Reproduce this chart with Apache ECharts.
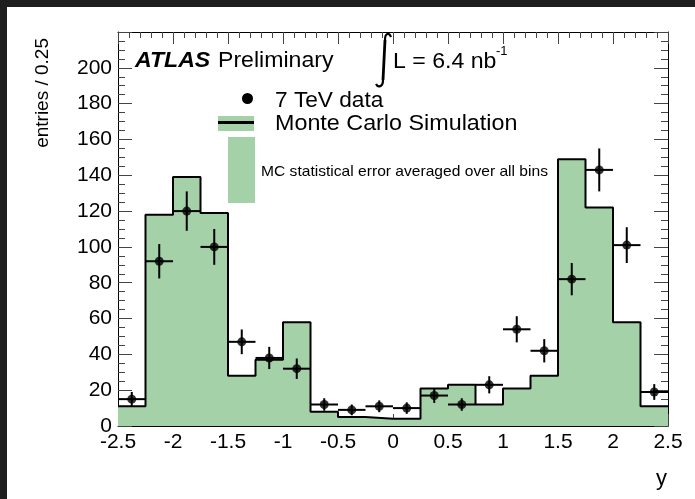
<!DOCTYPE html>
<html>
<head>
<meta charset="utf-8">
<script src="https://cdn.jsdelivr.net/npm/echarts@6/dist/echarts.min.js"></script>
<style>html,body{margin:0;padding:0;background:#fff;}#c{width:695px;height:499px;}</style>
</head>
<body>
<div id="c"></div>
<script>
// bin lower edges (width 0.25)
const binLow = [-2.5,-2.25,-2,-1.75,-1.5,-1.25,-1,-0.75,-0.5,-0.25,0,0.25,0.5,0.75,1,1.25,1.5,1.75,2,2.25];
const binCenters = [-2.375,-2.125,-1.875,-1.625,-1.375,-1.125,-0.875,-0.625,-0.375,-0.125,0.125,0.375,0.625,0.875,1.125,1.375,1.625,1.875,2.125,2.375];
const binWidth = 0.25;
const mcValues = [11,118,139,119,28,37,58,8,5,4,4,21,23,12,21,28,149,122,58,11];
const dataValues = [15,92,120,100,47,38,32,12,9,11,10,17,12,23,54,42,82,143,101,19];
const dataErrors = [4,9.6,11,10,6.9,6.2,5.7,3.5,3,3.3,3.2,4.1,3.5,4.8,7.3,6.5,9,12,10,4.4];
const xTicks = {min:-2.5, max:2.5, interval:0.5};
const yTicks = {min:0, max:220, interval:20};

const FONT = 'Liberation Sans, Arial, Helvetica, sans-serif';
const GREEN = '#a5d1a8';

const mcLine = binLow.map((x,i)=>[x, mcValues[i]]);
mcLine.push([binLow[binLow.length-1]+binWidth, mcValues[mcValues.length-1]]);
const pts = binCenters.map((x,i)=>[x, dataValues[i], dataErrors[i]]);

const chart = echarts.init(document.getElementById('c'), null, {renderer:'canvas'});

function xAxisCfg(pos, labels){
  return {
    type:'value', position:pos, min:xTicks.min, max:xTicks.max, interval:xTicks.interval,
    axisLine:{show:true, onZero:false, lineStyle:{color:'#000', width:1}},
    axisTick:{show:true, inside:true, length:12, lineStyle:{color:'#444', width:1}},
    minorTick:{show:true, splitNumber:5, length:6, lineStyle:{color:'#444', width:1}},
    axisLabel:{show:labels, color:'#000', fontSize:21, fontFamily:FONT, margin:6},
    splitLine:{show:false}, minorSplitLine:{show:false}
  };
}
function yAxisCfg(pos, labels){
  return {
    type:'value', position:pos, min:yTicks.min, max:yTicks.max, interval:yTicks.interval,
    axisLine:{show:true, onZero:false, lineStyle:{color:'#000', width:1}},
    axisTick:{show:true, inside:true, length:14, lineStyle:{color:'#444', width:1}},
    minorTick:{show:true, splitNumber:4, length:7, lineStyle:{color:'#444', width:1}},
    axisLabel:{show:labels, color:'#000', fontSize:21, fontFamily:FONT, margin:6, showMaxLabel:false},
    splitLine:{show:false}, minorSplitLine:{show:false}
  };
}

const SX = 1.05;
const option = {
  animation:false,
  backgroundColor:'#fff',
  grid:{left:118, top:32, width:550, height:394},
  xAxis:[xAxisCfg('bottom', true), xAxisCfg('top', false)],
  yAxis:[yAxisCfg('left', true), yAxisCfg('right', false)],
  series:[
    {type:'line', data:mcLine, step:'end', symbol:'none', z:2,
     lineStyle:{color:'#000', width:2}, areaStyle:{color:GREEN, opacity:1}},
    {type:'custom', data:pts, z:3, clip:true,
     renderItem:function(params, api){
       const x = api.value(0), y = api.value(1), e = api.value(2);
       const a = api.coord([x-binWidth/2, y]), b = api.coord([x+binWidth/2, y]);
       const c = api.coord([x, y-e]), d = api.coord([x, y+e]);
       return {type:'group', children:[
         {type:'line', shape:{x1:a[0],y1:a[1],x2:b[0],y2:b[1]}, style:{stroke:'#000', lineWidth:2}},
         {type:'line', shape:{x1:c[0],y1:c[1],x2:d[0],y2:d[1]}, style:{stroke:'#000', lineWidth:2}}
       ]};
     }},
    {type:'scatter', data:pts.map(p=>[p[0],p[1]]), symbol:'circle', symbolSize:9, z:4,
     itemStyle:{color:'#000'}}
  ],
  graphic:[
    {type:'rect', shape:{x:0,y:0,width:695,height:7}, style:{fill:'#1e1e1e'}, z:100},
    {type:'rect', shape:{x:0,y:0,width:7,height:499}, style:{fill:'#1e1e1e'}, z:100},
    {type:'text', x:135, y:61, scaleX:SX, style:{text:'ATLAS', font:'italic bold 22px '+FONT, fill:'#000', verticalAlign:'middle'}},
    {type:'text', x:218, y:61, scaleX:SX, style:{text:'Preliminary', font:'22px '+FONT, fill:'#000', verticalAlign:'middle'}},
    {type:'bezierCurve', shape:{x1:391, y1:37, cpx1:389, cpy1:32, cpx2:385, cpy2:33, x2:385, y2:40}, style:{stroke:'#000', lineWidth:2.2, fill:null}},
    {type:'line', shape:{x1:385, y1:40, x2:383, y2:80}, style:{stroke:'#000', lineWidth:2.8}},
    {type:'bezierCurve', shape:{x1:383, y1:80, cpx1:383, cpy1:87, cpx2:378, cpy2:88, x2:376, y2:84}, style:{stroke:'#000', lineWidth:2.2, fill:null}},
    {type:'text', x:393, y:62, scaleX:SX, style:{text:'L = 6.4 nb', font:'22px '+FONT, fill:'#000', verticalAlign:'middle'}},
    {type:'text', x:496, y:51, style:{text:'-1', font:'13px '+FONT, fill:'#000', verticalAlign:'middle'}},
    {type:'circle', shape:{cx:247.5, cy:98.5, r:5.5}, style:{fill:'#000'}},
    {type:'text', x:275, y:101, scaleX:1.03, style:{text:'7 TeV data', font:'22px '+FONT, fill:'#000', verticalAlign:'middle'}},
    {type:'rect', shape:{x:218, y:116, width:36, height:15}, style:{fill:GREEN}},
    {type:'rect', shape:{x:218, y:121, width:36, height:3}, style:{fill:'#000'}},
    {type:'text', x:275, y:124, scaleX:1.06, style:{text:'Monte Carlo Simulation', font:'22px '+FONT, fill:'#000', verticalAlign:'middle'}},
    {type:'rect', shape:{x:228, y:137, width:27, height:66}, style:{fill:GREEN}},
    {type:'text', x:261, y:172, scaleX:1.04, style:{text:'MC statistical error averaged over all bins', font:'15px '+FONT, fill:'#000', verticalAlign:'middle'}},
    {type:'text', x:43, y:38, rotation:Math.PI/2, style:{text:'entries / 0.25', font:'19px '+FONT, fill:'#000', align:'right', verticalAlign:'middle'}},
    {type:'text', x:667, y:479, style:{text:'y', font:'22px '+FONT, fill:'#000', align:'right', verticalAlign:'middle'}}
  ]
};
chart.setOption(option);
</script>
</body>
</html>
